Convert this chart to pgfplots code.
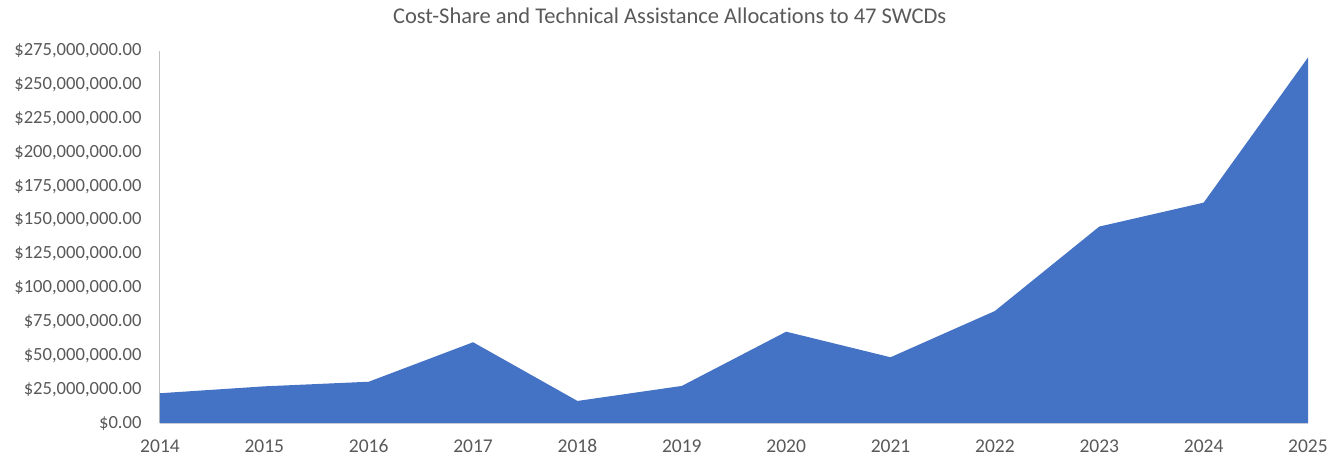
\documentclass[border=0pt]{standalone}
\usepackage{pgfplots}
\pgfplotsset{compat=1.18}
\usepackage{fontspec}
\setmainfont{Carlito}[Ligatures=NoCommon]
\definecolor{areablue}{HTML}{4472C4}
\definecolor{txtgray}{HTML}{595959}
\definecolor{axgray}{HTML}{BFBFBF}
\definecolor{axlight}{HTML}{D9D9D9}
\begin{document}
\begin{tikzpicture}
\useasboundingbox (-160bp,-34bp) rectangle (1183bp,423bp);
\begin{axis}[
  at={(0,0)}, anchor=south west,
  scale only axis,
  width=1148bp, height=372bp,
  xmin=2014, xmax=2025,
  ymin=0, ymax=275000000,
  xtick={2014,2015,...,2025},
  xticklabel style={/pgf/number format/1000 sep={}},
  /pgf/number format/assume math mode=true,
  ytick={0,25000000,50000000,75000000,100000000,125000000,150000000,175000000,200000000,225000000,250000000,275000000},
  yticklabels={{\$0.00},{\$25,000,000.00},{\$50,000,000.00},{\$75,000,000.00},{\$100,000,000.00},{\$125,000,000.00},{\$150,000,000.00},{\$175,000,000.00},{\$200,000,000.00},{\$225,000,000.00},{\$250,000,000.00},{\$275,000,000.00}},
  scaled y ticks=false,
  major tick length=0pt,
  axis x line*=bottom,
  axis y line*=left,
  x axis line style={draw=axlight, line width=1bp, -},
  y axis line style={draw=axgray, line width=1bp, -},
  tick label style={font=\fontsize{19.5bp}{22bp}\selectfont, text=txtgray},
  yticklabel style={xshift=-15bp, font=\fontsize{18.6bp}{22bp}\selectfont},
  xticklabel style={yshift=-13bp},
  title={Cost-Share and Technical Assistance Allocations to 47 SWCDs},
  title style={at={(rel axis cs:0.444,1)}, anchor=base, yshift=22bp, font=\fontsize{22.5bp}{26bp}\selectfont, text=txtgray},
  clip=false,
]
\addplot[fill=areablue, draw=none] coordinates {
  (2014, 22000000)
  (2015, 27100000)
  (2016, 30500000)
  (2017, 59700000)
  (2018, 16300000)
  (2019, 27400000)
  (2020, 67500000)
  (2021, 48600000)
  (2022, 82800000)
  (2023, 145200000)
  (2024, 162900000)
  (2025, 270200000)
} \closedcycle;
\end{axis}
\end{tikzpicture}
\end{document}
